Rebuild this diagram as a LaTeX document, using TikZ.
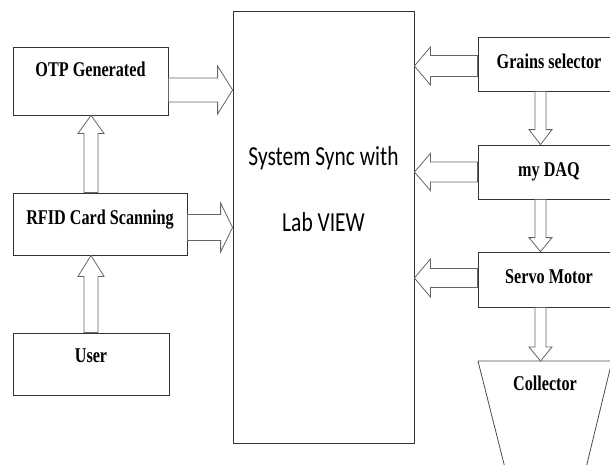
\documentclass[tikz,border=0pt]{standalone}
\usepackage{fontspec}
\newfontfamily\boxfont{Liberation Serif}[FakeStretch=0.77]
\newfontfamily\labfont{Carlito}[FakeStretch=0.78]
\usetikzlibrary{calc}
%
% hollow block arrow: #1 from, #2 to, #3 half shaft, #4 half head, #5 head length
\newcommand\fatarrow[5]{%
\coordinate (fa-s) at (#1);
\coordinate (fa-e) at (#2);
\coordinate (fa-h) at ($(fa-e)!#5pt!(fa-s)$);
\draw[arrowline] ($(fa-s)!#3pt!90:(fa-e)$) -- ($(fa-h)!#3pt!90:(fa-e)$) -- ($(fa-h)!#4pt!90:(fa-e)$) -- (fa-e)
  -- ($(fa-h)!#4pt!-90:(fa-e)$) -- ($(fa-h)!#3pt!-90:(fa-e)$) -- ($(fa-s)!#3pt!-90:(fa-e)$) -- cycle;
}

\begin{document}
\begin{tikzpicture}[x=1pt,y=-1pt,
  blk/.style={draw=black!80, line width=0.8pt, fill=white, inner sep=0pt,
    font=\boxfont\bfseries\fontsize{21}{21}\selectfont},
  arrowline/.style={draw=black!60, line width=0.8pt, fill=white}]
%
\path[use as bounding box, clip] (0,0) rectangle (610,464);
%
% main block
\node[blk, minimum width=181pt, minimum height=432pt] (sys) at (323.5,227) {};
\node[font=\labfont\fontsize{27.5}{66.7}\selectfont, align=center] (systxt) at (323.5,189) {System Sync with\\Lab VIEW};
%
% left column
\node[blk, minimum width=155pt, text height=29pt, text depth=39pt] (otp) at (90.5,81) {OTP Generated};
\node[blk, minimum width=174pt, text height=31pt, text depth=31pt] (rfid) at (100,224) {RFID Card Scanning};
\node[blk, minimum width=156pt, text height=29pt, text depth=33pt] (user) at (91,364) {User};
%
% right column
\node[blk, minimum width=142pt, text height=31pt, text depth=23pt] (grains) at (549,64) {Grains selector};
\node[blk, minimum width=142pt, text height=31pt, text depth=23pt] (daq) at (549,172) {my DAQ};
\node[blk, minimum width=142pt, text height=31pt, text depth=24pt] (servo) at (549,279.5) {Servo Motor};
%
% collector
\coordinate (coltop) at (545,361);
\draw[draw=black!70, line width=0.8pt] (478,361) -- (612,361) -- (585.5,470) -- (505.5,470) -- cycle;
\node[font=\boxfont\bfseries\fontsize{21}{21}\selectfont] (coll) at (545,383) {Collector};
%
% arrows into the main block
\coordinate (o1) at ($(otp.east)+(0,9)$);
\fatarrow{o1}{sys.west |- o1}{12}{24}{15}
\coordinate (r1) at ($(rfid.east)+(0,3.5)$);
\fatarrow{r1}{sys.west |- r1}{13}{24.5}{12}
\coordinate (g1) at ($(grains.west)+(0,2)$);
\fatarrow{g1}{sys.east |- g1}{10.5}{19}{16}
\fatarrow{daq.west}{sys.east |- daq.west}{10}{18.5}{16}
\coordinate (s1) at ($(servo.west)+(0,-1.5)$);
\fatarrow{s1}{sys.east |- s1}{9.5}{19}{16}
%
% arrows up the left column
\coordinate (r2) at ($(rfid.north)+(-9,0)$);
\fatarrow{r2}{otp.south -| r2}{7}{13}{18}
\fatarrow{user.north}{rfid.south -| user.north}{7}{13}{21}
%
% arrows down the right column
\coordinate (g2) at ($(grains.south)+(-8.5,0)$);
\fatarrow{g2}{daq.north -| g2}{5.5}{11.5}{15}
\coordinate (d2) at ($(daq.south)+(-8.5,0)$);
\fatarrow{d2}{servo.north -| d2}{5.5}{11.5}{14}
\coordinate (v2) at ($(servo.south)+(-8.5,0)$);
\fatarrow{v2}{coltop -| v2}{5.5}{11.5}{14}
%
\end{tikzpicture}
\end{document}
